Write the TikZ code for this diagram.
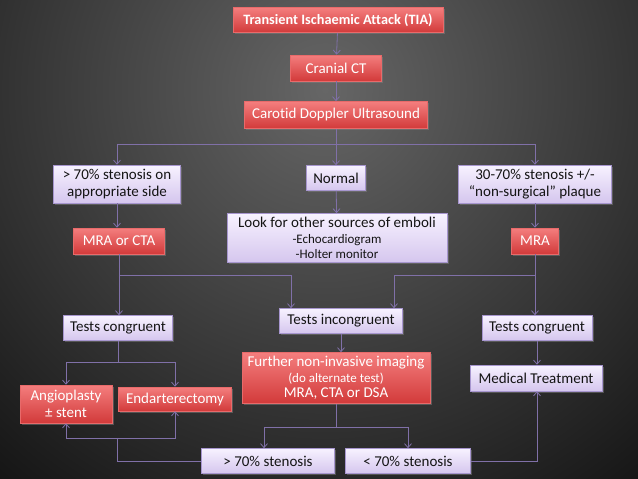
\documentclass[tikz,border=0pt]{standalone}
\usepackage{fontspec}
\setmainfont{Carlito}[Ligatures=NoCommon]
\usetikzlibrary{positioning,arrows.meta,shadows}
\definecolor{cLine}{HTML}{8070A8}
\definecolor{cInk}{HTML}{141414}
\definecolor{cRedTop}{HTML}{F47E7E}
\definecolor{cRedBot}{HTML}{D23A3A}
\definecolor{cRedEdge}{HTML}{E86A6A}
\definecolor{cLilTop}{HTML}{F7F2FF}
\definecolor{cLilBot}{HTML}{D5C6EE}
\definecolor{cLilEdge}{HTML}{A796CF}
\definecolor{cBgMid}{HTML}{666666}
\newcommand{\subline}{\fontsize{13}{14}\selectfont}
\tikzset{
  box/.style={draw, line width=0.6pt, inner sep=0pt, align=center,
              font=\fontsize{15}{16.5}\selectfont,
              drop shadow={opacity=0.5, shadow xshift=1.5pt, shadow yshift=-1.5pt}},
  redbox/.style={box, draw=cRedEdge, top color=cRedTop, bottom color=cRedBot, text=white},
  lilbox/.style={box, draw=cLilEdge, top color=cLilTop, bottom color=cLilBot, text=cInk},
  link/.style={cLine, line width=0.8pt},
  conn/.style={link, -{Straight Barb[length=4pt,width=7pt]}}
}

\begin{document}
\begin{tikzpicture}[x=1pt, y=-1pt]
\useasboundingbox (0,0) rectangle (638,479);
% dark background, lighter towards top centre
\begin{scope}
\clip (0,0) rectangle (638,479);
\fill[black] (0,0) rectangle (638,479);
\shade[inner color=cBgMid, outer color=black] (325,90) circle (640);
\end{scope}

% top chain
\node[redbox, minimum width=210pt, minimum height=25pt, font=\fontsize{14.3}{16}\selectfont\bfseries] (tia) at (338,20) {Transient Ischaemic Attack (TIA)};
\node[redbox, minimum width=91pt, minimum height=26pt] (ct) at (336,68) {Cranial CT};
\node[redbox, minimum width=183pt, minimum height=27pt] (dop) at (336,115) {Carotid Doppler Ultrasound};

% three findings
\node[lilbox, minimum width=127pt, minimum height=38pt] (sten70) at (117,184) {> 70\% stenosis on\\appropriate side};
\node[lilbox, minimum width=59pt, minimum height=25pt] (normal) at (336,178) {Normal};
\node[lilbox, minimum width=153pt, minimum height=38pt] (sten3070) at (535,184) {30-70\% stenosis +/-\\“non-surgical” plaque};

\node[lilbox, minimum width=220pt, minimum height=49pt] (look) at (337,238) {Look for other sources of emboli\\[-1pt]{\subline -Echocardiogram}\\[-1pt]{\subline -Holter monitor}};
\node[redbox, minimum width=91pt, minimum height=26pt] (mracta) at (119,241) {MRA or CTA};
\node[redbox, minimum width=47pt, minimum height=26pt] (mra) at (535,241) {MRA};

% test results
\node[lilbox, minimum width=109pt, minimum height=25pt] (congL) at (118,328) {Tests congruent};
\node[lilbox, minimum width=123pt, minimum height=25pt] (incong) at (341,321) {Tests incongruent};
\node[lilbox, minimum width=110pt, minimum height=25pt] (congR) at (537,328) {Tests congruent};

\node[redbox, minimum width=188pt, minimum height=51pt] (further) at (336,378) {Further non-invasive imaging\\[-1pt]{\subline (do alternate test)}\\[-1pt]MRA, CTA or DSA};
\node[redbox, minimum width=92pt, minimum height=38pt] (angio) at (66,404) {Angioplasty\\± stent};
\node[redbox, minimum width=113pt, minimum height=24pt] (endart) at (175,399) {Endarterectomy};
\node[lilbox, minimum width=132pt, minimum height=26pt] (medical) at (536,378) {Medical Treatment};
\node[lilbox, minimum width=133pt, minimum height=25pt] (gt70) at (268,461) {> 70\% stenosis};
\node[lilbox, minimum width=125pt, minimum height=25pt] (lt70) at (408,461) {< 70\% stenosis};

% junctions
\coordinate (jDop) at (336,144);
\coordinate (jL) at (119,275);
\coordinate (jR) at (535,275);
\coordinate (jCong) at (118,362);
\coordinate (jFur) at (336,427);
\coordinate (jBack) at (117,438);

% connectors
\draw[conn] (tia) -- (ct);
\draw[conn] (ct) -- (dop);
\draw[conn] (dop) -- (normal);
\draw[conn] (jDop) -| (sten70);
\draw[conn] (jDop) -| (sten3070);
\draw[conn] (normal) -- (look);
\draw[conn] (sten70) -- (mracta.north -| sten70);
\draw[conn] (sten3070) -- (mra);
\draw[conn] (mracta) -- (congL.north -| mracta);
\draw[conn] (mra) -- (congR.north -| mra);
\draw[conn] (jL) -| ([xshift=-50pt]incong.north);
\draw[conn] (jR) -| ([xshift=53pt]incong.north);
\draw[conn] (incong) -- (further.north -| incong);
\draw[link] (congL) -- (jCong);
\draw[conn] (jCong) -| (angio);
\draw[conn] (jCong) -| (endart);
\draw[conn] (congR) -- (medical.north -| congR);
\draw[link] (further) -- (jFur);
\draw[conn] (jFur) -| ([xshift=-4pt]gt70.north);
\draw[conn] (jFur) -| (lt70);
\draw[link] (gt70) -| (jBack);
\draw[conn] (jBack) -| (angio);
\draw[conn] (jBack) -| (endart.south);
\draw[conn] (lt70) -| (medical.south -| congR);
\end{tikzpicture}
\end{document}
